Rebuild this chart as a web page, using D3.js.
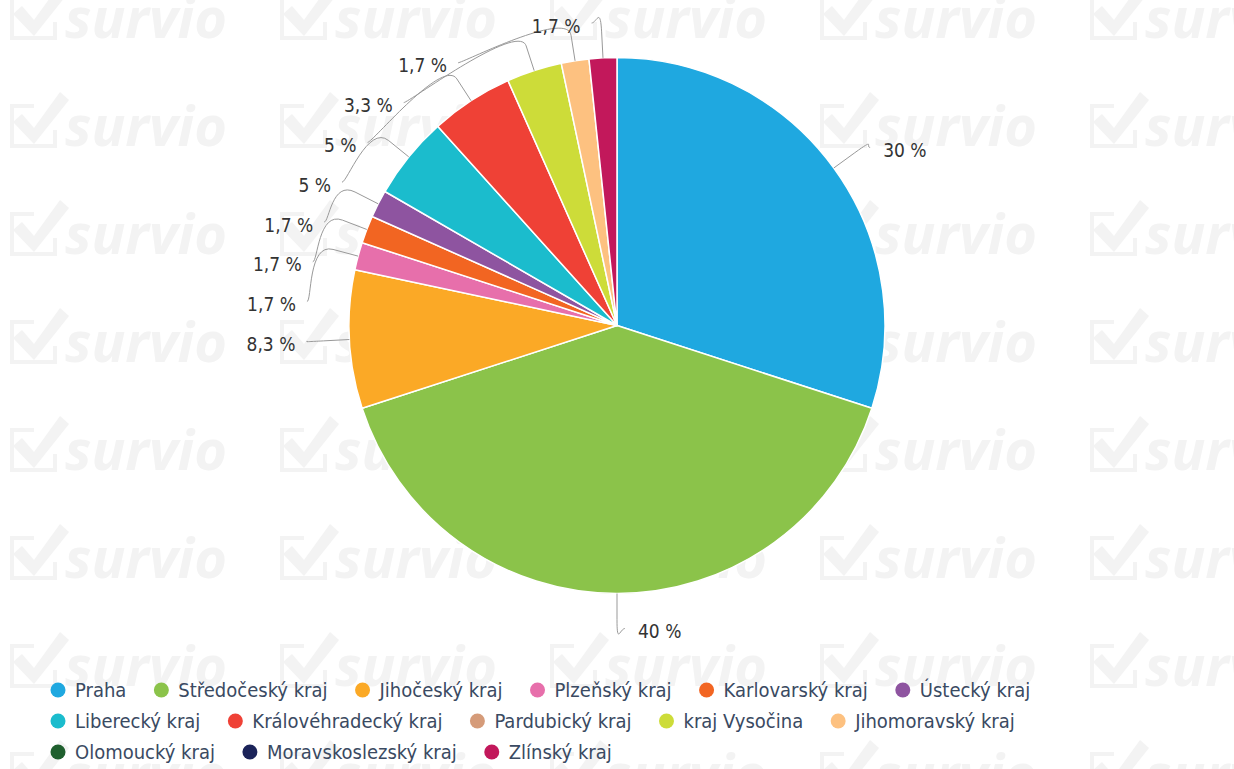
<!DOCTYPE html>
<html lang="en">
<head>
<meta charset="UTF-8">
<title>Kraje</title>
<style>
body { margin: 0; background: #fff; }
svg { display: block; }
.lbl { font-family: 'DejaVu Sans Condensed', 'DejaVu Sans', sans-serif; font-stretch: condensed; font-size: 19px; fill: #333; }
.leg text { font-family: 'DejaVu Sans Condensed', 'DejaVu Sans', sans-serif; font-stretch: condensed; font-size: 20px; fill: #3a4a62; }
.wm text { font-family: 'Open Sans', sans-serif; font-weight: 700; font-style: italic; font-size: 56px; fill: #f3f3f3; }
</style>
</head>
<body>
<script src="https://cdn.jsdelivr.net/npm/d3@7"></script>
<script>
// answers per region (60 respondents)
const regions = ["Praha", "Středočeský kraj", "Jihočeský kraj", "Plzeňský kraj", "Karlovarský kraj",
  "Ústecký kraj", "Liberecký kraj", "Královéhradecký kraj", "Pardubický kraj", "kraj Vysočina",
  "Jihomoravský kraj", "Olomoucký kraj", "Moravskoslezský kraj", "Zlínský kraj"];
const counts = [18, 24, 5, 1, 1, 1, 3, 3, 0, 2, 1, 0, 0, 1];
const colors = ["#1fa8e0", "#8bc34a", "#fba926", "#e76fab", "#f26522", "#8e54a0", "#1bbccd",
  "#ef4136", "#d59b79", "#cddc39", "#fdc180", "#1f5f2e", "#1b2359", "#c2185b"];

const width = 1234, height = 769;
const cx = 617, cy = 325.5, r = 268;
const labelR = r + 35, breakR = r + 26;
const total = d3.sum(counts);

const data = regions.map((name, i) => ({ name, count: counts[i], color: colors[i] }));

const svg = d3.select("body").append("svg")
    .attr("width", width)
    .attr("height", height);

// watermark
const wm = svg.append("g").attr("class", "wm");
for (let col = 0; col < 5; col++) {
  for (let row = 0; row < 8; row++) {
    const g = wm.append("g").attr("transform", `translate(${12 + 270 * col},${38 + 108 * row})`);
    g.append("path")
        .attr("d", "M22,-40 L0,-40 L0,0 L43,0 L43,-16")
        .attr("fill", "none").attr("stroke", "#f3f3f3").attr("stroke-width", 4);
    g.append("path")
        .attr("d", "M1,-24 L10,-32 L22,-18 L48,-54 L57,-46 L22,-2 Z")
        .attr("fill", "#f3f3f3");
    g.append("text").attr("x", 53).attr("y", 0).text("survio");
  }
}

// pie
const pie = d3.pie().sort(null).value(d => d.count);
const arcs = pie(data).filter(d => d.data.count > 0);
const arc = d3.arc().innerRadius(0).outerRadius(r);

svg.append("g")
    .attr("transform", `translate(${cx},${cy})`)
  .selectAll("path")
  .data(arcs)
  .join("path")
    .attr("d", arc)
    .attr("fill", d => d.data.color)
    .attr("stroke", "#fff")
    .attr("stroke-width", 1.5)
    .attr("stroke-linejoin", "round");

// label positions
const fmt = v => (Math.round(v * 10) / 10).toString().replace(".", ",") + " %";
arcs.forEach(d => {
  d.mid = (d.startAngle + d.endAngle) / 2;
  d.side = d.mid <= Math.PI + 1e-6 ? 1 : -1;
  d.nat = cy - labelR * Math.cos(d.mid);
});

function distribute(items, minY, maxY, gap) {
  items.sort((a, b) => a.nat - b.nat);
  let clusters = items.map(d => ({ items: [d] }));
  const place = c => {
    let y = d3.mean(c.items, (d, k) => d.nat - k * gap);
    c.y = Math.max(minY, Math.min(maxY - (c.items.length - 1) * gap, y));
  };
  clusters.forEach(place);
  let moved = true;
  while (moved) {
    moved = false;
    for (let i = 0; i < clusters.length - 1; i++) {
      const a = clusters[i], b = clusters[i + 1];
      if (a.y + a.items.length * gap > b.y) {
        a.items = a.items.concat(b.items);
        place(a);
        clusters.splice(i + 1, 1);
        moved = true;
        break;
      }
    }
  }
  clusters.forEach(c => c.items.forEach((d, k) => { d.ly = c.y + k * gap; }));
}
distribute(arcs.filter(d => d.side < 0), 23, 650, 39.8);
distribute(arcs.filter(d => d.side > 0), 23, 650, 39.8);

arcs.forEach(d => {
  const dy = d.ly - cy;
  d.lx = cx + d.side * (Math.sqrt(Math.max(0, labelR * labelR - dy * dy)) + 8);
  d.tx = cx + r * Math.sin(d.mid);
  d.ty = cy - r * Math.cos(d.mid);
  d.bx = cx + breakR * Math.sin(d.mid);
  d.by = cy - breakR * Math.cos(d.mid);
});

const labels = svg.append("g");
labels.selectAll("path")
  .data(arcs)
  .join("path")
    .attr("fill", "none")
    .attr("stroke", "#999")
    .attr("stroke-width", 1)
    .attr("d", d => `M${d.lx},${d.ly} C${d.lx - d.side * 5},${d.ly} ${2 * d.bx - d.tx},${2 * d.by - d.ty} ${d.bx},${d.by} L${d.tx},${d.ty}`);

labels.selectAll("text")
  .data(arcs)
  .join("text")
    .attr("class", "lbl")
    .attr("x", d => d.side > 0 ? d.lx + 13 : d.lx - 11)
    .attr("y", d => d.ly + 3)
    .attr("dy", "0.35em")
    .attr("text-anchor", d => d.side > 0 ? "start" : "end")
    .text(d => fmt(d.data.count / total * 100));

// legend, flowing rows
const leg = svg.append("g").attr("class", "leg");
const legLeft = 50, legMax = 1150, rowH = 31, itemGap = 27;
let lx = legLeft, ly = 690;
data.forEach(d => {
  const item = leg.append("g");
  item.append("circle").attr("cx", 8).attr("cy", 0).attr("r", 7.5).attr("fill", d.color);
  const t = item.append("text").attr("x", 25).attr("y", 0).attr("dy", "0.35em").text(d.name);
  const w = 25 + t.node().getComputedTextLength();
  if (lx + w > legMax && lx > legLeft) { lx = legLeft; ly += rowH; }
  item.attr("transform", `translate(${lx},${ly})`);
  lx += w + itemGap;
});
</script>
</body>
</html>
